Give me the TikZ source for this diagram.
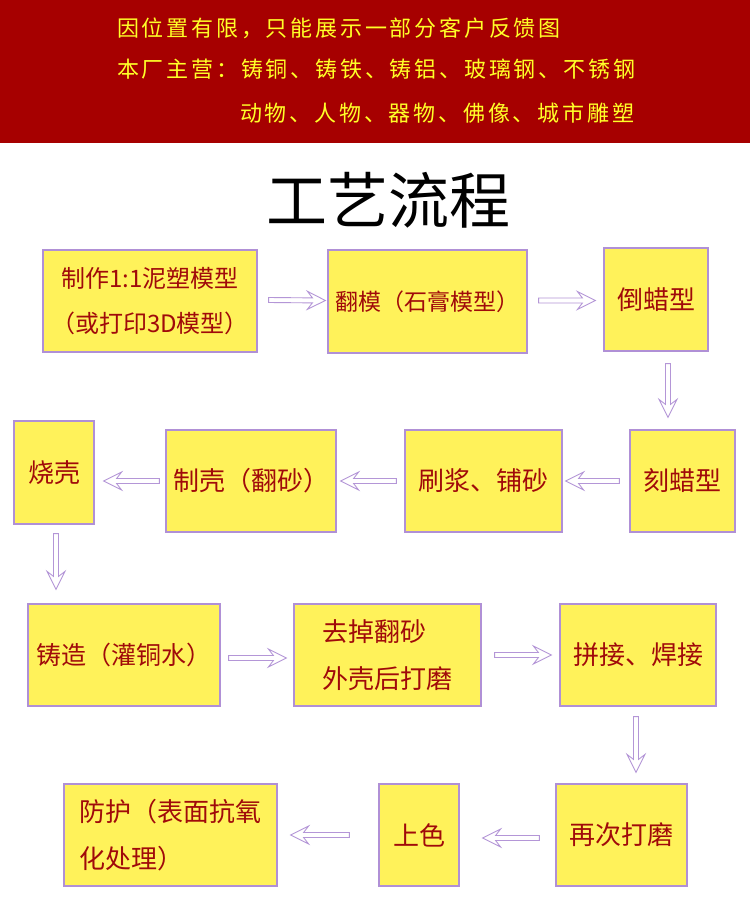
\documentclass[tikz,border=0pt]{standalone}
\usepackage{fontspec}
\usetikzlibrary{calc}
\newfontfamily\cjk{Noto Sans CJK SC}
\newfontfamily\hdrfont[LetterSpace=12.7]{Noto Sans CJK SC}
\definecolor{hdrred}{RGB}{166,0,0}
\definecolor{hdryel}{RGB}{255,255,40}
\definecolor{boxfill}{RGB}{255,242,90}
\definecolor{boxline}{RGB}{176,144,214}
\definecolor{boxtext}{RGB}{160,10,10}
\definecolor{arrowc}{RGB}{180,150,215}
\tikzset{
  stepbox/.style={draw=boxline, line width=1.2pt, fill=boxfill, inner sep=0pt,
    text=boxtext, font=\cjk\fontsize{26}{47}\selectfont, align=left},
  hdrline/.style={anchor=west, inner sep=0pt, text=hdryel, font=\hdrfont\fontsize{22}{22}\selectfont},
  harrowline/.style={draw=arrowc, line width=0.9pt, fill=white, line join=miter}
}
% hollow block arrow from #1 to #2 (calc expressions)
\newcommand\harr[2]{%
  \draw[harrowline] let \p1=($#1$), \p2=($#2$),
      \n1={atan2(\y2-\y1,\x2-\x1)}, \n2={veclen(\x2-\x1,\y2-\y1)} in
    [shift={(\p1)}, rotate=\n1]
    (0,2.5) -- ({\n2-13},2.5) -- ({\n2-18},9) -- (\n2,0) -- ({\n2-18},-9) -- ({\n2-13},-2.5) -- (0,-2.5) -- cycle;}
\begin{document}
\begin{tikzpicture}[x=1pt,y=-1pt]
\useasboundingbox (0,0) rectangle (750,918);
\fill[white] (0,0) rectangle (750,918);
\fill[hdrred] (0,0) rectangle (750,143);
\node[hdrline] (h1) at (117,28) {因位置有限，只能展示一部分客户反馈图};
\node[hdrline] (h2) at (117,69) {本厂主营：铸铜、铸铁、铸铝、玻璃钢、不锈钢};
\node[hdrline] (h3) at (240,113) {动物、人物、器物、佛像、城市雕塑};
\node[inner sep=0pt, font=\cjk\fontsize{61}{61}\selectfont] (title) at (388,200) {工艺流程};

\node[stepbox, minimum width=214pt, minimum height=102pt, align=center, font=\cjk\fontsize{24}{45}\selectfont] (n1) at (150,301) {制作1:1泥塑模型\\（或打印3D模型）};
\node[stepbox, minimum width=199pt, minimum height=103pt, font=\cjk\fontsize{23}{47}\selectfont] (n2) at (427.5,301.5) {翻模（石膏模型）};
\node[stepbox, minimum width=104pt, minimum height=103pt] (n3) at (656,299.5) {倒蜡型};
\node[stepbox, minimum width=105pt, minimum height=102pt] (n4) at (682.5,481) {刻蜡型};
\node[stepbox, minimum width=157pt, minimum height=102pt] (n5) at (483.5,481) {刷浆、铺砂};
\node[stepbox, minimum width=170pt, minimum height=102pt] (n6) at (251,481) {制壳（翻砂）};
\node[stepbox, minimum width=80pt, minimum height=103pt] (n7) at (54,472.5) {烧壳};
\node[stepbox, minimum width=192pt, minimum height=102pt, font=\cjk\fontsize{25}{47}\selectfont] (n8) at (124,655) {铸造（灌铜水）};
\node[stepbox, minimum width=187pt, minimum height=102pt] (n9) at (387.5,655) {去掉翻砂\\外壳后打磨};
\node[stepbox, minimum width=156pt, minimum height=102pt] (n10) at (638,655) {拼接、焊接};
\node[stepbox, minimum width=131pt, minimum height=102pt] (n11) at (621.5,835) {再次打磨};
\node[stepbox, minimum width=80pt, minimum height=102pt] (n12) at (419,835) {上色};
\node[stepbox, minimum width=213pt, minimum height=102pt] (n13) at (170.5,835) {防护（表面抗氧\\化处理）};

\harr{(n1.east)+(11,-1)}{(n2.west)+(-2,-1)}
\harr{(n2.east)+(11,-1)}{(n3.west |- n2.east)+(-8,-1)}
\harr{(n3.south)+(12,12)}{(n3.south |- n4.north)+(12,-12)}
\harr{(n4.west)+(-10,0)}{(n5.east)+(3,0)}
\harr{(n5.west)+(-8,0)}{(n6.east)+(4,0)}
\harr{(n6.west)+(-6,0)}{(n7.east |- n6.west)+(9,0)}
\harr{(n7.south)+(2,9)}{(n7.south |- n8.north)+(2,-14)}
\harr{(n8.east)+(8,3)}{(n9.west)+(-7,3)}
\harr{(n9.east)+(13,0)}{(n10.west)+(-8,0)}
\harr{(n10.south)+(-2,10)}{(n10.south |- n11.north)+(-2,-11)}
\harr{(n11.west)+(-16,3)}{(n12.east)+(23,3)}
\harr{(n12.west)+(-29,0)}{(n13.east)+(13,0)}
\end{tikzpicture}
\end{document}
